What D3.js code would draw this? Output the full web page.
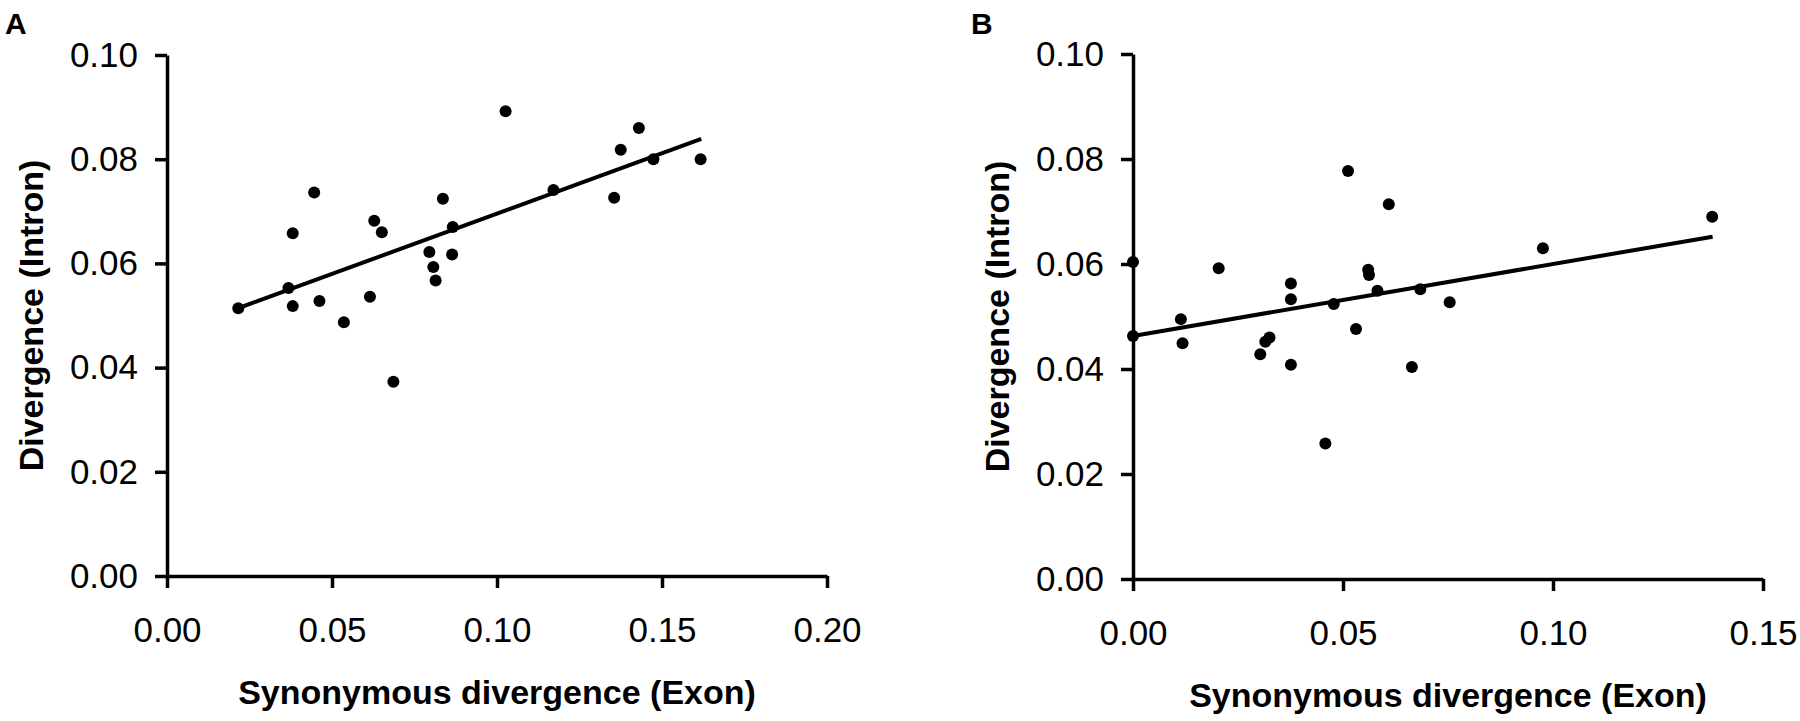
<!DOCTYPE html>
<html>
<head>
<meta charset="utf-8">
<script src="https://cdn.jsdelivr.net/npm/d3@7"></script>
<style>
  body { margin: 0; background: #fff; }
  svg { display: block; font-family: "Liberation Sans", Arial, sans-serif; }
</style>
</head>
<body>
<svg id="chart" width="1800" height="721"></svg>
<script>
// panel A : divergence of intron vs synonymous divergence of exon
var aX = [0.0216, 0.0368, 0.0381, 0.0381, 0.0446, 0.0462, 0.0536, 0.0615, 0.0628, 0.0651, 0.0686, 0.0795,
          0.0807, 0.0814, 0.0836, 0.0866, 0.0864, 0.1026, 0.1171, 0.1355, 0.1375, 0.1430, 0.1474, 0.1617];
var aY = [0.0514, 0.0553, 0.0518, 0.0658, 0.0736, 0.0528, 0.0487, 0.0536, 0.0682, 0.0660, 0.0373, 0.0622,
          0.0593, 0.0567, 0.0724, 0.0670, 0.0617, 0.0892, 0.0741, 0.0726, 0.0818, 0.0860, 0.0800, 0.0800];
var aFitX = [0.0216, 0.1619];
var aFitY = [0.0514, 0.0839];

// panel B
var bX = [0.0000, 0.0000, 0.0114, 0.0118, 0.0204, 0.0303, 0.0315, 0.0325, 0.0376, 0.0376, 0.0376, 0.0458,
          0.0478, 0.0512, 0.0531, 0.0560, 0.0562, 0.0582, 0.0609, 0.0664, 0.0684, 0.0754, 0.0976, 0.1379];
var bY = [0.0604, 0.0463, 0.0495, 0.0449, 0.0592, 0.0428, 0.0452, 0.0460, 0.0563, 0.0533, 0.0408, 0.0258,
          0.0524, 0.0777, 0.0476, 0.0589, 0.0579, 0.0549, 0.0714, 0.0404, 0.0552, 0.0527, 0.0630, 0.0690];
var bFitX = [0.0000, 0.1380];
var bFitY = [0.0463, 0.0652];

var yTicks = [0, 0.02, 0.04, 0.06, 0.08, 0.10];
var xTicksA = [0, 0.05, 0.10, 0.15, 0.20];
var xTicksB = [0, 0.05, 0.10, 0.15];

var xTitle = "Synonymous divergence (Exon)";
var yTitle = "Divergence (Intron)";

var svg = d3.select("#chart");
var fmt = d3.format(".2f");

function drawPanel(p) {
    var x = d3.scaleLinear().domain([0, d3.max(p.xTicks)]).range([p.left, p.right]);
    var y = d3.scaleLinear().domain([0, 0.10]).range([p.bottom, p.top]);
    var g = svg.append("g");

    var xAxis = g.append("g")
        .attr("transform", "translate(0," + p.bottom + ")")
        .call(d3.axisBottom(x).tickValues(p.xTicks).tickFormat(fmt).tickSize(12).tickSizeOuter(0).tickPadding(29));
    var yAxis = g.append("g")
        .attr("transform", "translate(" + p.left + ",0)")
        .call(d3.axisLeft(y).tickValues(yTicks).tickFormat(fmt).tickSize(12).tickSizeOuter(0).tickPadding(17));

    [xAxis, yAxis].forEach(function(ax) {
        ax.selectAll("path, line")
            .attr("stroke", "#000")
            .attr("stroke-width", 3.5);
        ax.selectAll("text")
            .attr("fill", "#000")
            .style("font-size", "35px")
            .style("font-family", "'Liberation Sans', Arial, sans-serif");
    });

    // fit line
    var fit = p.fitX.map((v, i) => [v, p.fitY[i]]);
    g.append("path")
        .datum(fit)
        .attr("d", d3.line().x(d => x(d[0])).y(d => y(d[1])))
        .attr("stroke", "#000")
        .attr("stroke-width", 4)
        .attr("fill", "none");

    g.selectAll(".dot")
        .data(p.xs.map((v, i) => [v, p.ys[i]]))
        .enter()
        .append("circle")
        .attr("class", "dot")
        .attr("cx", d => x(d[0]))
        .attr("cy", d => y(d[1]))
        .attr("r", 6)
        .attr("fill", "#000");

    g.append("text")
        .attr("x", (p.left + p.right) / 2)
        .attr("y", p.bottom + 128)
        .attr("text-anchor", "middle")
        .style("font-size", "34px")
        .style("font-weight", "bold")
        .text(xTitle);

    g.append("text")
        .attr("transform", "translate(" + (p.left - 124) + "," + ((p.top + p.bottom) / 2) + ") rotate(-90)")
        .attr("text-anchor", "middle")
        .style("font-size", "34px")
        .style("font-weight", "bold")
        .text(yTitle);

    g.append("text")
        .attr("x", p.left - 162)
        .attr("y", 34)
        .style("font-size", "30px")
        .style("font-weight", "bold")
        .text(p.label);
}

drawPanel({ label: "A", xs: aX, ys: aY, fitX: aFitX, fitY: aFitY, xTicks: xTicksA,
            left: 167, right: 827, top: 55, bottom: 576 });
drawPanel({ label: "B", xs: bX, ys: bY, fitX: bFitX, fitY: bFitY, xTicks: xTicksB,
            left: 1133, right: 1763, top: 54, bottom: 579 });
</script>
</body>
</html>
